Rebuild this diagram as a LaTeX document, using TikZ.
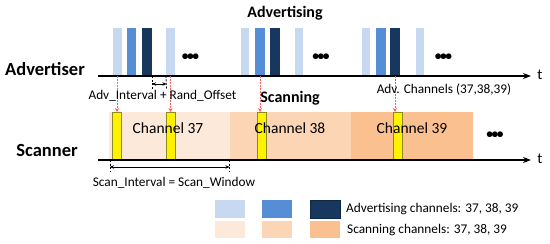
\documentclass[tikz,border=0pt]{standalone}
\usepackage{fontspec}
\setmainfont{Carlito}
\usetikzlibrary{arrows.meta,positioning}

\definecolor{advA}{HTML}{C6D9F1}
\definecolor{advB}{HTML}{558ED5}
\definecolor{advC}{HTML}{17375E}
\definecolor{scanA}{HTML}{FDE9D9}
\definecolor{scanB}{HTML}{FCD5B4}
\definecolor{scanC}{HTML}{FAC090}
\definecolor{probered}{HTML}{FF5B5B}
\definecolor{yedge}{HTML}{8C8C1E}

\newcommand{\moredots}{•\kern-1.4pt•\kern-1.4pt•}

\begin{document}
\begin{tikzpicture}[
    x=1pt,y=-1pt,
    bar/.style={minimum width=9pt,minimum height=48pt,inner sep=0pt,
      outer sep=0pt,anchor=south west},
    ybox/.style={draw=yedge,fill=yellow,line width=.6pt,minimum width=9pt,
      minimum height=48pt,inner sep=0pt,anchor=north},
    band/.style={minimum width=121pt,minimum height=48pt,inner sep=0pt,
      outer sep=0pt,anchor=north west},
    key/.style={minimum width=30pt,minimum height=17pt,inner sep=0pt,
      outer sep=0pt,anchor=north west},
    axis/.style={-{Stealth[length=8pt,width=6pt]},line width=1.4pt},
    probe/.style={-{Stealth[length=4pt,width=4pt]},probered,line width=.9pt,
      dash pattern=on 1.5pt off 1.5pt},
    span/.style={{Stealth[length=4pt,width=3.5pt]}-{Stealth[length=4pt,width=3.5pt]},
      line width=.8pt},
    tickline/.style={dash pattern=on 2pt off 1.5pt,line width=.8pt},
    lbl/.style={font=\fontsize{13.3}{15}\selectfont,inner sep=0pt},
    chname/.style={font=\fontsize{15.5}{18}\selectfont,inner sep=0pt},
    head/.style={font=\bfseries\fontsize{16}{19}\selectfont,inner sep=0pt},
    role/.style={font=\bfseries\fontsize{18.5}{22}\selectfont,inner sep=0pt},
    more/.style={font=\bfseries\fontsize{13.5}{15}\selectfont,inner sep=0pt}
  ]
    \useasboundingbox (0,0) rectangle (550,244);

    % advertiser side
    \node[bar,fill=advA] (a1) at (112.5,76) {};
    \node[bar,fill=advB,minimum width=9.5pt] (b1) at (126.5,76) {};
    \node[bar,fill=advC,minimum width=10pt] (c1) at (142,76) {};
    \node[bar,fill=advA] (d1) at (166,76) {};
    \node[bar,fill=advA,minimum width=8pt] (a2) at (240.5,76) {};
    \node[bar,fill=advB,minimum width=10pt] (b2) at (255,76) {};
    \node[bar,fill=advC,minimum width=10pt] (c2) at (270,76) {};
    \node[bar,fill=advA,minimum width=8pt] (d2) at (295,76) {};
    \node[bar,fill=advA,minimum width=8pt] (a3) at (362,76) {};
    \node[bar,fill=advB,minimum width=10.5pt] (b3) at (375.5,76) {};
    \node[bar,fill=advC,minimum width=10pt] (c3) at (390,76) {};
    \node[bar,fill=advA,minimum width=8pt] (d3) at (416,76) {};
    \node[more] (dots1) at (190.5,57.5) {\moredots};
    \node[more] (dots2) at (321,57.5) {\moredots};
    \node[more] (dots3) at (443.5,57.5) {\moredots};

    \coordinate (advstart) at (98,76);
    \coordinate (advend) at (531,76);
    \draw[axis] (advstart) -- (advend);
    \node[lbl,font=\fontsize{15}{18}\selectfont] (advt) at (540,75) {t};
    \node[role] (advertiser) at (45,69) {Advertiser};
    \node[head] (advertising) at (285,13) {Advertising};

    % scanner side
    \node[band,fill=scanA] (ch37) at (109,112) {};
    \node[band,fill=scanB] (ch38) at (230,112) {};
    \node[band,fill=scanC,minimum width=122pt] (ch39) at (351,112) {};
    \node[ybox] (y1) at (116.5,112) {};
    \node[ybox] (y2) at (171,112) {};
    \node[ybox] (y3) at (261.5,112) {};
    \node[ybox] (y4) at (397.5,112) {};
    \node[chname] (n37) at (168,128) {Channel 37};
    \node[chname] (n38) at (290,128) {Channel 38};
    \node[chname] (n39) at (412,128) {Channel 39};
    \node[more] (dots4) at (495,135.5) {\moredots};

    \coordinate (scanstart) at (98,160);
    \coordinate (scanend) at (531,160);
    \draw[axis] (scanstart) -- (scanend);
    \node[lbl,font=\fontsize{15}{18}\selectfont] (scant) at (540,159) {t};
    \node[role] (scanner) at (47,150) {Scanner};
    \node[head] (scanning) at (290,98) {Scanning};

    % channel hits
    \draw[probe] (a1.south) -- (a1.south |- y1.north);
    \draw[probe] (d1.south) -- (d1.south |- y2.north);
    \draw[probe] (b2.south) -- (b2.south |- y3.north);
    \draw[probe] (c3.south) -- (c3.south |- y4.north);

    % intervals
    \coordinate (gapL) at (152,89);
    \coordinate (gapR) at (166.5,89);
    \draw[tickline] (c1.south east) -- (gapL);
    \draw[tickline] (d1.south west) -- (gapR);
    \draw[span] ([yshift=5pt]gapL) -- ([yshift=5pt]gapR);
    \node[lbl] (advint) at (162.5,96) {Adv\_Interval + Rand\_Offset};
    \node[lbl] (advch) at (444,90) {Adv. Channels (37,38,39)};

    \coordinate (winL) at (110,171);
    \coordinate (winR) at (229.5,171);
    \draw[tickline] (ch37.south west -| winL) -- (winL);
    \draw[tickline] (ch37.south east -| winR) -- (winR);
    \draw[span] ([yshift=4pt]winL) -- ([yshift=4pt]winR);
    \node[lbl] (scanwin) at (174,183) {Scan\_Interval = Scan\_Window};

    % legend
    \node[key,fill=advA,minimum height=18pt] (k1) at (215,200) {};
    \node[key,fill=advB,minimum height=18pt] (k2) at (262,200) {};
    \node[key,fill=advC,minimum height=18pt,draw=advC!70!black,line width=.5pt] (k3) at (310,200) {};
    \node[key,fill=scanA] (k4) at (215,221) {};
    \node[key,fill=scanB] (k5) at (262,221) {};
    \node[key,fill=scanC] (k6) at (310,221) {};
    \node[lbl,anchor=west] (advkey) at (346,209) {Advertising channels: 37, 38, 39};
    \node[lbl,anchor=west] (scankey) at (347,230) {Scanning channels: 37, 38, 39};
  \end{tikzpicture}
\end{document}
